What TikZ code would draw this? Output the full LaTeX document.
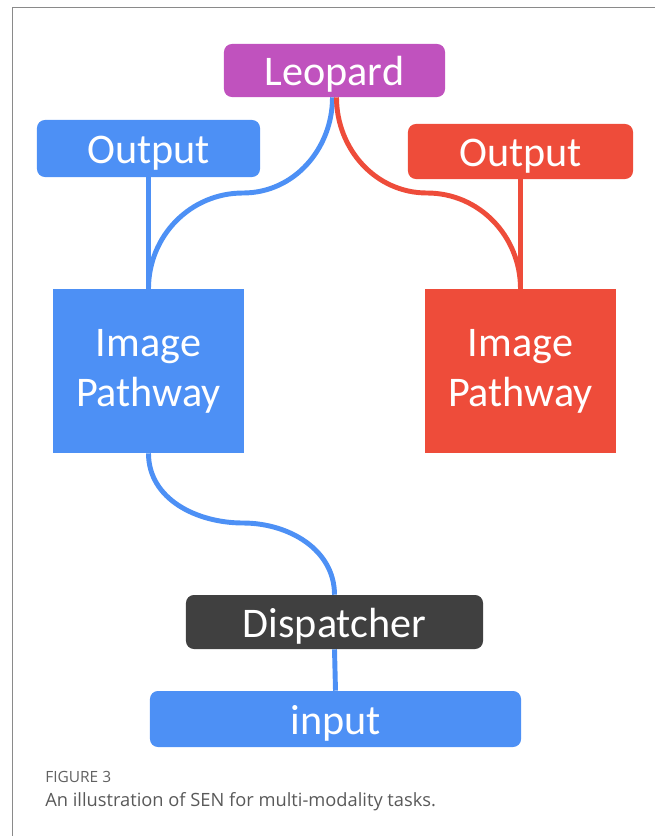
\documentclass[tikz,border=0pt]{standalone}
\usepackage{fontspec}
\setmainfont{Carlito}
\newfontfamily\capfont{Open Sans}
\usetikzlibrary{positioning,backgrounds}
\definecolor{senblue}{HTML}{4D90F5}
\definecolor{senred}{HTML}{EE4C3A}
\definecolor{senpurple}{HTML}{C052BE}
\definecolor{sendark}{HTML}{404040}
\definecolor{senframe}{HTML}{8A8A8A}

\begin{document}
\begin{tikzpicture}[x=0.025cm, y=-0.025cm,
    box/.style={inner sep=0pt, text=white, align=center,
                font=\fontsize{30}{35.5}\selectfont,
                execute at begin node={\rule{0pt}{0.88em}}},
    tag/.style={box, rounded corners=0.2cm},
    pathbox/.style={box, minimum width=4.775cm, minimum height=4.1cm,
                text depth=0.44em},
    wire/.style={line width=3.5pt}]
  \useasboundingbox (0,0) rectangle (655,836);

  \node[tag, fill=senpurple, minimum width=5.525cm, minimum height=1.325cm] (leopard) at (334.5,70.5) {Leopard};
  \node[tag, fill=senblue, minimum width=5.575cm, minimum height=1.425cm] (outl) at (148.5,148.5) {Output};
  \node[tag, fill=senred, minimum width=5.625cm, minimum height=1.375cm] (outr) at (520.5,151.5) {Output};
  \node[pathbox, fill=senblue] (pathl) at (148.5,371) {Image\\Pathway};
  \node[pathbox, fill=senred] (pathr) at (520.5,371) {Image\\Pathway};
  \node[tag, fill=sendark, minimum width=7.425cm, minimum height=1.35cm] (disp) at (334.5,622) {Dispatcher};
  \node[tag, fill=senblue, minimum width=9.275cm, minimum height=1.4cm] (inp) at (335.5,719) {input};

  \coordinate (lmid) at (243,193);
  \coordinate (rmid) at (427,193);
  \coordinate (dmid) at (243,523);

  \begin{scope}[on background layer]
    \draw[wire, senblue] (outl.south) -- (pathl.north);
    \draw[wire, senred] (outr.south) -- (pathr.north);
    \draw[wire, senblue] ([xshift=-0.05cm]leopard.south) to[out=-90,in=0] (lmid) to[out=180,in=90] (pathl.north);
    \draw[wire, senred] ([xshift=0.05cm]leopard.south) to[out=-90,in=180] (rmid) to[out=0,in=90] (pathr.north);
    \draw[wire, senblue] (pathl.south) to[out=-90,in=180] (dmid) to[out=0,in=90] (disp.north);
    \draw[wire, senblue] (disp.south) -- (inp.north);
  \end{scope}

  % Frame and caption
  \draw[senframe, line width=1.4pt] (12.5,836) -- (12.5,7.5) -- (655,7.5);
  \node[anchor=west, inner sep=0pt, text=black!62, font=\capfont\fontsize{11}{13}\selectfont] (fig) at (45,777) {FIGURE 3};
  \node[anchor=west, inner sep=0pt, text=black!65, font=\capfont\fontsize{13}{16}\selectfont] (cap) at (45,802) {An illustration of SEN for multi-modality tasks.};
\end{tikzpicture}
\end{document}
